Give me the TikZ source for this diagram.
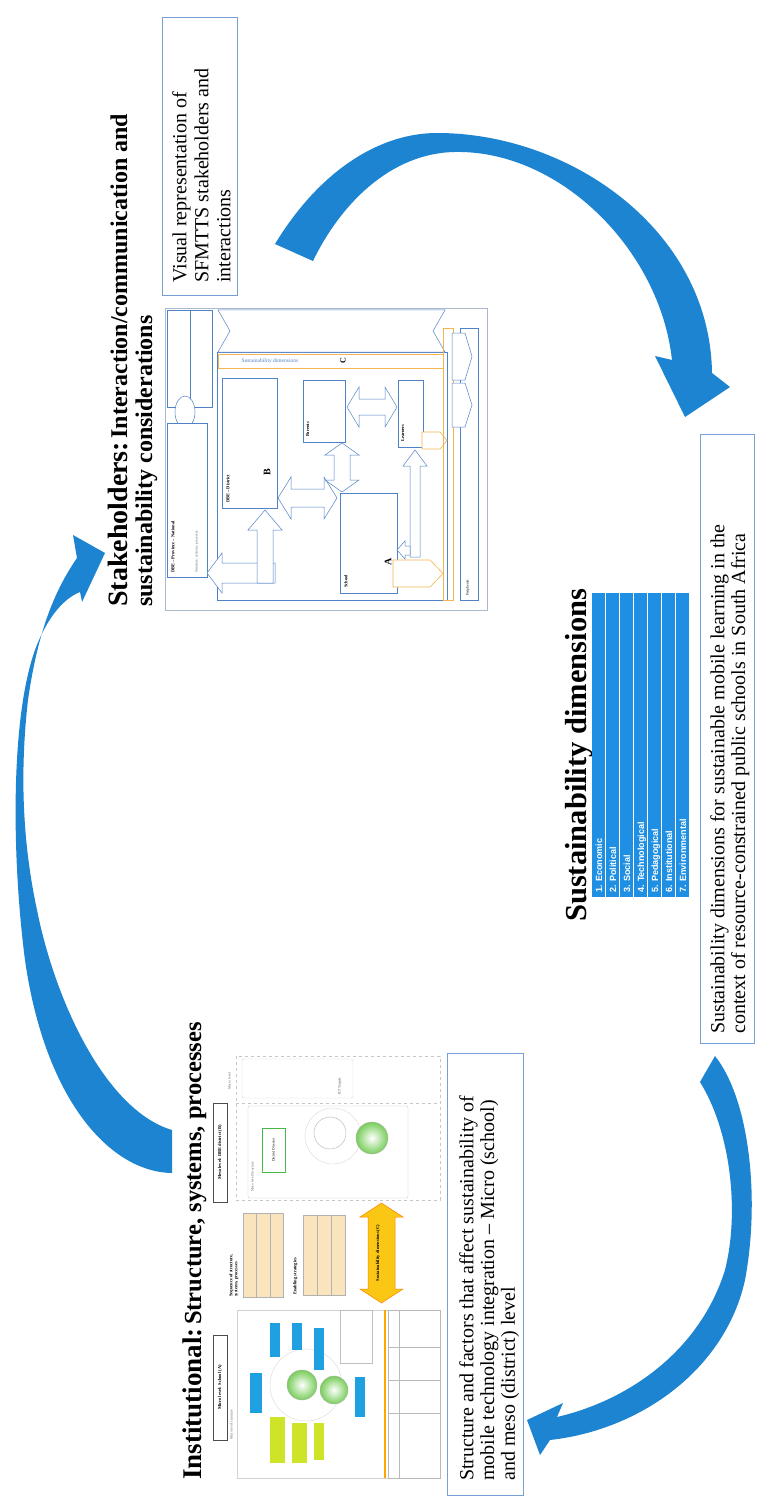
\documentclass[tikz,border=0pt]{standalone}
\usepackage{fontspec}
\setmainfont{Liberation Serif}
\setsansfont{Liberation Sans}
\usetikzlibrary{shapes.geometric}
\definecolor{arrowblue}{RGB}{28,132,208}
\definecolor{barblue}{RGB}{30,143,226}
\definecolor{capblue}{RGB}{120,160,215}
\definecolor{thumbblue}{RGB}{80,130,200}
\definecolor{thumborange}{RGB}{245,180,80}
\definecolor{framegray}{RGB}{170,185,205}
\definecolor{cyanbox}{RGB}{30,160,225}
\definecolor{limebox}{RGB}{205,228,40}
\definecolor{circgreen}{RGB}{120,205,90}
\definecolor{beige}{RGB}{250,228,190}
\definecolor{yellowarrow}{RGB}{250,200,20}
\newcommand{\dblarrowh}[7][]{%
  \draw[#1] ({#2-#4},#3) -- ({#2-#4+#7},{#3-#6}) -- ({#2-#4+#7},{#3-#5}) -- ({#2+#4-#7},{#3-#5}) -- ({#2+#4-#7},{#3-#6}) -- ({#2+#4},#3) -- ({#2+#4-#7},{#3+#6}) -- ({#2+#4-#7},{#3+#5}) -- ({#2-#4+#7},{#3+#5}) -- ({#2-#4+#7},{#3+#6}) -- cycle;}
\newcommand{\dblarrowv}[7][]{%
  \draw[#1] (#2,{#3-#4}) -- ({#2+#6},{#3-#4+#7}) -- ({#2+#5},{#3-#4+#7}) -- ({#2+#5},{#3+#4-#7}) -- ({#2+#6},{#3+#4-#7}) -- (#2,{#3+#4}) -- ({#2-#6},{#3+#4-#7}) -- ({#2-#5},{#3+#4-#7}) -- ({#2-#5},{#3-#4+#7}) -- ({#2-#6},{#3-#4+#7}) -- cycle;}
\tikzset{
  rot/.style={rotate=90,inner sep=0pt},
  capbox/.style={draw=capblue,line width=0.9pt},
  captext/.style={rot,anchor=north west,align=left,font=\fontsize{20}{20.8}\selectfont},
  tb/.style={draw=thumbblue,line width=0.5pt},
  tob/.style={draw=thumborange,line width=0.6pt},
  mini/.style={font=\fontsize{3.6}{4.2}\selectfont},
  minib/.style={font=\bfseries\fontsize{4.5}{5}\selectfont},
  bigarrow/.style={fill=arrowblue},
}
\begin{document}
\begin{tikzpicture}[x=1pt,y=-1pt]
\fill[white] (0,0) rectangle (763,1503);
\useasboundingbox (0,0) rectangle (763,1503);

% ---------------- big curved arrows ----------------
\fill[bigarrow] (275,244) .. controls (320,170) and (380,133) .. (437,133)
  .. controls (570,133) and (710,230) .. (712,373) -- (730,387) -- (685,417) -- (655,356) -- (672,360)
  .. controls (660,250) and (560,150) .. (455,152) .. controls (390,153) and (340,205) .. (313,261) -- cycle;
\fill[bigarrow] (172,1173) .. controls (110,1172) and (45,1100) .. (25,960)
  .. controls (12,860) and (10,720) .. (35,650) .. controls (48,615) and (65,598) .. (80,592)
  -- (82,602) -- (105,553) -- (73,535) -- (77,558)
  .. controls (55,590) and (38,630) .. (28,700) .. controls (20,770) and (22,840) .. (37,910)
  .. controls (55,1000) and (105,1110) .. (172,1130) -- cycle;
\fill[bigarrow] (715,1056) .. controls (750,1100) and (760,1200) .. (745,1280)
  .. controls (725,1370) and (640,1430) .. (550,1440) -- (540,1455) -- (527,1420) -- (563,1403) -- (557,1417)
  .. controls (630,1400) and (700,1350) .. (725,1270) .. controls (740,1210) and (730,1130) .. (700,1082) -- cycle;

% ---------------- titles ----------------
\node[rot,anchor=base west,font=\bfseries] (stk1) at (127,607)
  {{\fontsize{28}{30}\selectfont Stakeholders:} {\fontsize{24}{26}\selectfont Interaction/communication and}};
\node[rot,anchor=base west,font=\bfseries\fontsize{24}{26}\selectfont] (stk2) at (152,607)
  {sustainability considerations};
\node[rot,anchor=base west,font=\bfseries] (inst) at (201,1480)
  {{\fontsize{27}{30}\selectfont Institutional:} {\fontsize{24.5}{27}\selectfont Structure, systems, processes}};
\node[rot,anchor=base west,font=\bfseries\fontsize{30.5}{32}\selectfont] (sdt) at (586,922)
  {Sustainability dimensions};

% ---------------- caption boxes ----------------
\draw[capbox] (162,17) rectangle (237,295);
\node[captext,font=\fontsize{20}{22}\selectfont] (vis) at (172,283)
  {Visual representation of\\SFMTTS stakeholders and\\interactions};
\draw[capbox] (447,1053) rectangle (523,1495);
\node[captext] (stc) at (459,1481)
  {Structure and factors that affect sustainability of\\mobile technology integration – Micro (school)\\and meso (district) level};
\draw[capbox] (700,434) rectangle (754,1043);
\node[captext] (sdc) at (710,1034)
  {Sustainability dimensions for sustainable mobile learning in the\\context of resource-constrained public schools in South Africa};

% ---------------- sustainability bars ----------------
\foreach \i/\lbl in {0/{1. Economic},1/{2. Political},2/{3. Social},3/{4. Technological},4/{5. Pedagogical},5/{6. Institutional},6/{7. Environmental}}{
  \fill[barblue] ({592+\i*14},593) rectangle ({605+\i*14},897);
  \node[rot,anchor=base west,text=white,font=\sffamily\bfseries\fontsize{9}{10}\selectfont] (bar\i) at ({602+\i*14},893) {\lbl};
}

% ---------------- stakeholder thumbnail ----------------
\draw[draw=framegray,line width=0.8pt] (165,308) rectangle (487,610);
\draw[tb,line width=0.8pt] (217,352) rectangle (447,600);
\draw[tb,fill=white] (167,310) rectangle (212,407);
\draw[tb] (190,310) -- (190,407);
\draw[tb,fill=white] (185,412) ellipse [x radius=10, y radius=16];
\draw[tb,fill=white] (167,423) rectangle (207,577);
\node[rot,minib,anchor=north west] (prov) at (171,573) {DBE – Province – National};
\node[rot,mini,anchor=north west,text=black!60] (provs) at (195,573) {Structure, systems, processes};
\draw[tb,fill=white] (218,310) -- (445,310) -- (433,331) -- (445,352) -- (218,352) -- (230,331) -- cycle;
\draw[tob,fill=white] (218,354) rectangle (443,368);
\node[anchor=west,text=thumbblue,font=\fontsize{5.5}{6}\selectfont] (sdlab) at (238,361) {Sustainability dimensions};
\node[rot,font=\bfseries\fontsize{8}{8}\selectfont] (clab) at (343,361) {C};
\draw[tb,fill=white] (222,378) rectangle (277,508);
\node[rot,minib,anchor=north west] (dist) at (226,503) {DBE – District};
\node[rot,font=\bfseries\fontsize{10}{10}\selectfont] (blab) at (267,472) {B};
\draw[tb,fill=white] (303,380) rectangle (345,442);
\node[rot,minib,anchor=north west] (par) at (306,437) {Parents};
\draw[tb,fill=white] (398,380) rectangle (423,447);
\node[rot,minib,anchor=north west] (lea) at (401,442) {Learners};
\draw[tb,fill=white] (340,493) rectangle (397,593);
\node[rot,minib,anchor=north west] (sch) at (344,588) {School};
\node[rot,font=\bfseries\fontsize{10}{10}\selectfont] (alab) at (388,562) {A};
\dblarrowh[tb,fill=white]{307.5}{498}{29.5}{9}{21}{13}
\dblarrowh[tb,fill=white]{372}{407}{25}{8}{20}{12}
\dblarrowv[tb,fill=white]{342}{467.5}{24.5}{8}{17}{12}
\draw[tb,fill=white] (207,573) -- (222,553) -- (222,563) -- (275,563) -- (275,583) -- (222,583) -- (222,593) -- cycle;
\draw[tb,fill=white] (265,510) -- (282,530) -- (273,530) -- (273,583) -- (257,583) -- (257,530) -- (248,530) -- cycle;
\draw[tb,fill=white] (415,450) -- (427,466) -- (420,466) -- (420,557) -- (410,557) -- (410,466) -- (403,466) -- cycle;
\draw[tb,fill=white] (397,550) -- (405,541) -- (405,546) -- (410,546) -- (410,555) -- (405,555) -- (405,559) -- cycle;
\draw[tob,fill=white] (393,560) -- (430,560) -- (443,573.5) -- (430,587) -- (393,587) -- cycle;
\draw[tob,fill=white] (422,432) -- (440,432) -- (447,440.5) -- (440,449) -- (422,449) -- cycle;
\draw[tob] (443,328) rectangle (453,600);
\draw[tb,line width=0.8pt] (460,328) rectangle (478,600);
\draw[tb,fill=white] (452,333) -- (465,333) -- (472,356.5) -- (465,380) -- (452,380) -- cycle;
\draw[tb,fill=white] (452,383) -- (465,383) -- (472,405) -- (465,427) -- (452,427) -- cycle;
\node[rot,mini,anchor=north west] (peri) at (466,596) {Peripherals};

% ---------------- institutional thumbnail ----------------
\draw[gray!45,dashed,line width=0.4pt] (236,1056) rectangle (440,1200);
\draw[gray!45,dashed,line width=0.4pt] (236,1103) -- (440,1103);
\draw[black!70,fill=white,line width=0.4pt] (213,1103) rectangle (227,1202);
\node[rot,minib,anchor=center] (meso) at (220,1152.5) {Meso level: DBE district (B)};
\node[rot,mini,anchor=north west,text=black!60] (macro) at (228,1090) {Macro level};
\draw[gray!30,rounded corners=2pt] (242,1059) rectangle (353,1098);
\node[rot,mini,anchor=north west,text=black!70] (ict) at (338,1095) {ICT Targets};
\draw[gray!40,rounded corners=2pt] (248,1106) rectangle (408,1198);
\node[rot,mini,anchor=north west,text=black!60] (mesos) at (251,1192) {Meso level Structure};
\draw[green!45!gray,line width=0.4pt] (262,1128) rectangle (285,1172);
\node[rot,mini,anchor=center] (ddir) at (273.5,1150) {District Director};
\draw[gray!30] (333,1136) circle (28);
\draw[gray!60,fill=white] (330,1133) circle (16);
\shade[inner color=white,outer color=circgreen] (372,1138) circle (16);
\draw[gray!60] (372,1138) circle (16);
\node[rot,minib,anchor=north west,align=left] (seqh) at (229,1297) {Sequence of structure,\\systems, processes};
\draw[gray!60,fill=beige,line width=0.4pt] (243,1213) rectangle (283,1297);
\draw[gray!60,line width=0.3pt] (256,1213) -- (256,1297) (270,1213) -- (270,1297);
\node[rot,minib,anchor=north west] (enab) at (293,1295) {Enabling strategies};
\draw[gray!60,fill=beige,line width=0.4pt] (303,1215) rectangle (345,1295);
\draw[gray!60,line width=0.3pt] (317,1215) -- (317,1295) (331,1215) -- (331,1295);
\dblarrowv[draw=orange,fill=yellowarrow,line width=0.5pt]{381.5}{1253}{50}{13.5}{21.5}{14}
\node[rot,minib,anchor=center] (sdy) at (378,1253) {Sustainability dimensions (C)};
\draw[black!70,fill=white,line width=0.4pt] (213,1335) rectangle (227,1440);
\node[rot,minib,anchor=center] (micro) at (220,1387.5) {Micro level: School (A)};
\node[rot,mini,anchor=north west,text=black!60] (micros) at (230,1440) {Micro level structure};
\draw[gray!35,line width=0.4pt] (237,1310) rectangle (440,1478);
\draw[gray!30] (306,1385) circle (36);
\foreach \a/\b/\c/\d in {270/1323/280/1357, 292/1323/302/1350, 314/1328/324/1370, 250/1373/262/1413, 355/1377/365/1417}
  {\fill[cyanbox] (\a,\b) rectangle (\c,\d);}
\foreach \a/\b/\c/\d in {270/1417/285/1463, 292/1423/307/1463, 314/1423/324/1460}
  {\fill[limebox] (\a,\b) rectangle (\c,\d);}
\shade[inner color=white,outer color=circgreen] (302,1385) circle (15);
\draw[gray!60] (302,1385) circle (15);
\shade[inner color=white,outer color=circgreen] (334,1390) circle (14);
\draw[gray!60] (334,1390) circle (14);
\draw[gray!50,line width=0.4pt] (340,1310) rectangle (372,1363);
\draw[orange!70!yellow,line width=1.6pt] (385,1310) -- (385,1478);
\draw[gray!55,line width=0.4pt] (388,1310) rectangle (440,1478);
\draw[gray!55,line width=0.3pt] (399,1310) -- (399,1478) (388,1347) -- (440,1347) (388,1380) -- (440,1380) (388,1413) -- (440,1413);
\end{tikzpicture}
\end{document}
